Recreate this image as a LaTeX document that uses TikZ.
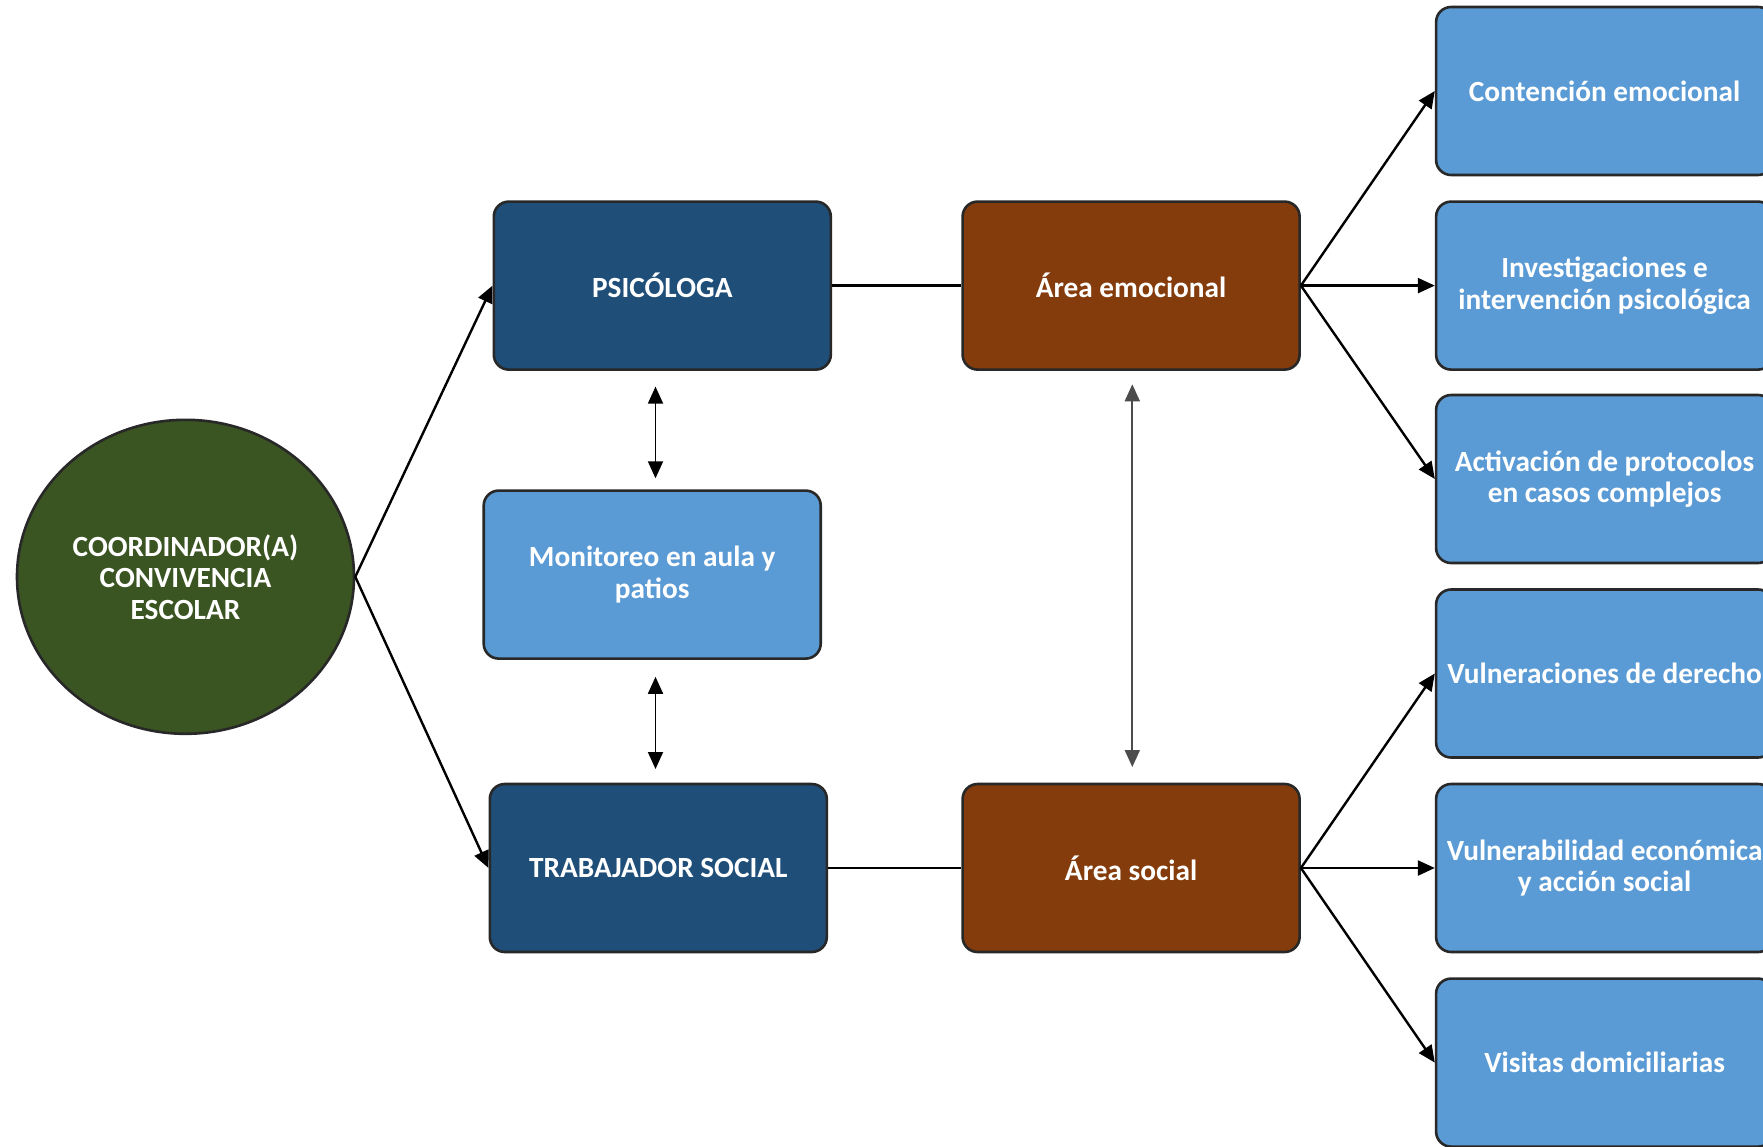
\documentclass[tikz,border=0pt]{standalone}
\usepackage{fontspec}
\setmainfont{Carlito}
\usetikzlibrary{shapes.geometric,arrows.meta}
\definecolor{cgreen}{RGB}{58,84,34}
\definecolor{cdblue}{RGB}{31,78,121}
\definecolor{cbrown}{RGB}{132,60,12}
\definecolor{clblue}{RGB}{91,155,213}
\definecolor{cborder}{RGB}{40,40,40}
\begin{document}
\begin{tikzpicture}[x=1pt,y=-1pt,
  txt/.style={text=white,font=\bfseries\fontsize{29.3}{31.5}\selectfont,align=center},
  boxbase/.style={txt,draw=cborder,line width=2.6pt,rounded corners=15pt,minimum width=337pt,minimum height=168pt,inner sep=0pt},
  darkbox/.style={boxbase,fill=cdblue},
  brownbox/.style={boxbase,fill=cbrown},
  lightbox/.style={boxbase,fill=clblue},
  circ/.style={txt,ellipse,draw=cborder,line width=2.6pt,fill=cgreen,minimum width=337pt,minimum height=314pt,inner sep=0pt},
  arr/.style={line width=2.4pt,-{Triangle[length=17pt,width=15pt]}},
  plain/.style={line width=2.4pt},
  dblarr/.style={line width=1.8pt,{Triangle[length=17pt,width=15pt]}-{Triangle[length=17pt,width=15pt]}},
  dblgray/.style={line width=1.8pt,draw=black!70,{Triangle[length=17pt,width=15pt]}-{Triangle[length=17pt,width=15pt]}}
]
\clip (0,0) rectangle (1763,1146);
\fill[white] (0,0) rectangle (1763,1146);

\node[circ] (coord) at (185.5,576.8) {COORDINADOR(A)\\CONVIVENCIA\\ESCOLAR};

\node[darkbox] (psi) at (662.3,285.6) {PSICÓLOGA};
\node[lightbox] (mon) at (652.2,574.6) {Monitoreo en aula y\\patios};
\node[darkbox] (tra) at (658.3,868) {TRABAJADOR SOCIAL};

\node[brownbox] (emo) at (1131.1,285.6) {Área emocional};
\node[brownbox] (soc) at (1131.1,868) {Área social};

\node[lightbox] (r1) at (1604.6,91) {Contención emocional};
\node[lightbox] (r2) at (1604.6,285.6) {Investigaciones e\\intervención psicológica};
\node[lightbox] (r3) at (1604.6,479) {Activación de protocolos\\en casos complejos};
\node[lightbox] (r4) at (1604.6,673.5) {Vulneraciones de derecho};
\node[lightbox] (r5) at (1604.6,868) {Vulnerabilidad económica\\y acción social};
\node[lightbox] (r6) at (1604.6,1062.6) {Visitas domiciliarias};

\draw[arr] (coord.east) -- (psi.west);
\draw[arr] (coord.east) -- (tra.west);

\draw[plain] (psi.east) -- (emo.west);
\draw[plain] (tra.east) -- (soc.west);

\draw[arr] (emo.east) -- (r1.west);
\draw[arr] (emo.east) -- (r2.west);
\draw[arr] (emo.east) -- (r3.west);
\draw[arr] (soc.east) -- (r4.west);
\draw[arr] (soc.east) -- (r5.west);
\draw[arr] (soc.east) -- (r6.west);

\draw[dblarr] ([xshift=-6.8pt,yshift=-15.7pt]psi.south) -- ([xshift=3.3pt,yshift=11pt]mon.north);
\draw[dblarr] ([xshift=3.3pt,yshift=-16.9pt]mon.south) -- ([xshift=-2.8pt,yshift=13.7pt]tra.north);
\draw[dblgray] ([xshift=1.2pt,yshift=-13.4pt]emo.south) -- ([xshift=1.2pt,yshift=15.7pt]soc.north);
\end{tikzpicture}
\end{document}
